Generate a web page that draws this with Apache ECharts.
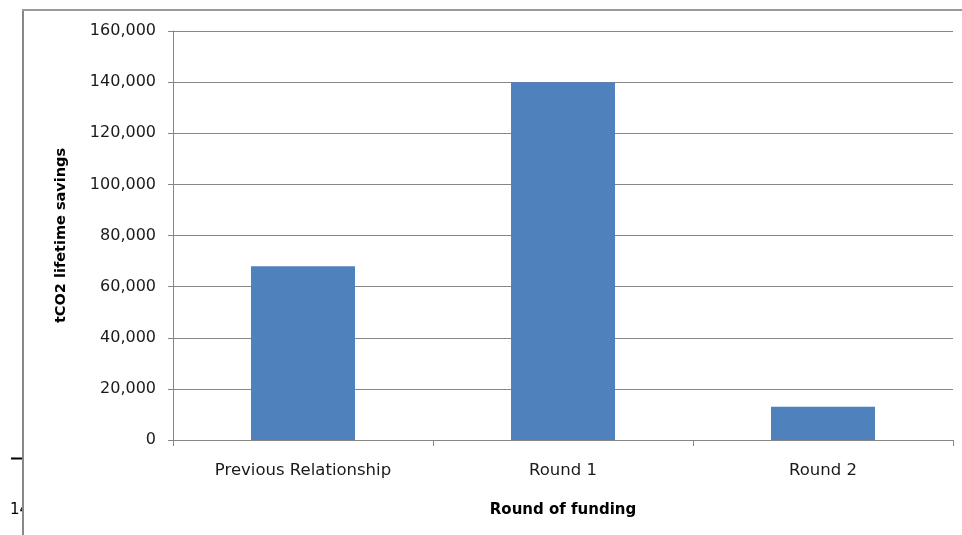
<!DOCTYPE html>
<html><head><meta charset="utf-8">
<script src="https://cdn.jsdelivr.net/npm/echarts@6/dist/echarts.min.js"></script>
<style>html,body{margin:0;padding:0;background:#fff}#c{width:962px;height:535px}</style>
</head><body><div id="c"></div>
<script>
const categories = ["Previous Relationship", "Round 1", "Round 2"];
const savings = [68000, 140000, 13000];
const yTicks = [0, 20000, 40000, 60000, 80000, 100000, 120000, 140000, 160000];

const chart = echarts.init(document.getElementById('c'), null, {renderer: 'canvas'});
const font = 'DejaVu Sans';
chart.setOption({
  animation: false,
  backgroundColor: '#fff',
  grid: {left: 173, right: 9, top: 31, bottom: 95, containLabel: false},
  xAxis: {
    type: 'category', data: categories,
    name: 'Round of funding', nameLocation: 'middle', nameGap: 63,
    nameTextStyle: {fontFamily: font, fontSize: 15, fontWeight: 'bold', color: '#000'},
    axisLine: {lineStyle: {color: '#868686', width: 1}},
    axisTick: {show: true, length: 6, lineStyle: {color: '#868686'}},
    axisLabel: {fontFamily: font, fontSize: 16.5, color: '#1a1a1a', margin: 22}
  },
  yAxis: {
    type: 'value', min: yTicks[0], max: yTicks[yTicks.length - 1], interval: 20000,
    name: 'tCO2 lifetime savings', nameLocation: 'middle', nameGap: 104,
    nameTextStyle: {fontFamily: font, fontSize: 14.5, fontWeight: 'bold', color: '#000'},
    axisLine: {show: true, lineStyle: {color: '#868686', width: 1}},
    axisTick: {show: true, length: 5, lineStyle: {color: '#868686'}},
    splitLine: {lineStyle: {color: '#868686', width: 1}},
    axisLabel: {fontFamily: font, fontSize: 16, color: '#1a1a1a', margin: 17,
      formatter: v => v.toLocaleString('en-US')}
  },
  series: [{
    type: 'bar', data: savings, barWidth: '40%',
    itemStyle: {color: '#4F81BD'}
  }],
  graphic: [
    {type: 'text', left: 10, top: 503, z: 1, style: {text: '14', font: '15px ' + font, fill: '#000'}},
    {type: 'rect', z: 5, shape: {x: 23, y: 495, width: 20, height: 30}, style: {fill: '#fff'}},
    {type: 'line', z: 10, shape: {x1: 23, y1: 10, x2: 23, y2: 535}, style: {stroke: '#888', lineWidth: 2}},
    {type: 'line', z: 10, shape: {x1: 22, y1: 10, x2: 962, y2: 10}, style: {stroke: '#999', lineWidth: 2}},
    {type: 'line', z: 10, shape: {x1: 11, y1: 458.5, x2: 22, y2: 458.5}, style: {stroke: '#000', lineWidth: 2}}
  ]
});
</script></body></html>
